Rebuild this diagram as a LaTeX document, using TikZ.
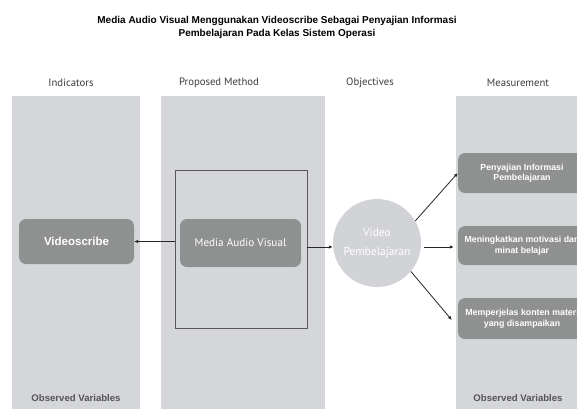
\documentclass[tikz,border=0pt]{standalone}
\usepackage{fontspec}
\setmainfont{Liberation Sans}
\newfontfamily\hand{PT Sans}
\usetikzlibrary{arrows.meta}
\definecolor{colgray}{RGB}{213,214,217}
\definecolor{boxgray}{RGB}{143,144,144}
\definecolor{circgray}{RGB}{210,211,214}
\definecolor{txtdark}{RGB}{85,85,88}
\definecolor{headtxt}{RGB}{60,60,62}
\tikzset{
  col/.style={fill=colgray, draw=none, inner sep=0pt},
  gbox/.style={fill=boxgray, draw=none, rounded corners=7pt, inner sep=0pt, text=white, align=center},
  head/.style={font=\hand\fontsize{10.7}{12}\selectfont, text=headtxt},
  obs/.style={font=\bfseries\fontsize{9.6}{11}\selectfont, text=txtdark},
  mtext/.style={font=\bfseries\fontsize{8.8}{10.5}\selectfont},
  arr/.style={-{Latex[length=4pt,width=3.5pt]}, line width=0.8pt, draw=black!85}
}
\begin{document}
\begin{tikzpicture}[x=1pt,y=-1pt]
\path[use as bounding box] (0,0) rectangle (577,408);
\clip (0,0) rectangle (577,408);
\fill[white] (0,0) rectangle (577,408);
% title
\node[font=\bfseries\fontsize{10}{13}\selectfont, align=center] (title) at (277,27)
  {Media Audio Visual Menggunakan Videoscribe Sebagai Penyajian Informasi\\Pembelajaran Pada Kelas Sistem Operasi};
% headers
\node[head] (h1) at (71,83) {Indicators};
\node[head] (h2) at (219,83) {Proposed Method};
\node[head] (h3) at (370,83) {Objectives};
\node[head] (h4) at (518,83) {Measurement};
% columns
\node[col, minimum width=128pt, minimum height=330pt] (c1) at (76,261) {};
\node[col, minimum width=164pt, minimum height=330pt] (c2) at (243,261) {};
\node[col, minimum width=150pt, minimum height=330pt] (c4) at (531,261) {};
% inner frame
\node[draw=black!65, line width=0.6pt, minimum width=132pt, minimum height=158pt, inner sep=0pt] (frame) at (241,249) {};
% boxes
\node[gbox, minimum width=115pt, minimum height=45pt, font=\bfseries\fontsize{11.5}{13}\selectfont] (vs) at (76.5,241.5) {Videoscribe};
\node[gbox, minimum width=121pt, minimum height=48pt, font=\hand\fontsize{11.2}{13}\selectfont] (mav) at (240.5,243) {Media Audio Visual};
\node[circle, fill=circgray, minimum size=88pt, inner sep=0pt, text=white, align=center,
  font=\hand\fontsize{11.5}{19}\selectfont] (vp) at (377,243) {Video\\Pembelajaran};
\node[gbox, minimum width=128pt, minimum height=40pt, mtext] (m1) at (522,173) {Penyajian Informasi\\Pembelajaran};
\node[gbox, minimum width=128pt, minimum height=39pt, mtext] (m2) at (522,245.5) {Meningkatkan motivasi dan\\minat belajar};
\node[gbox, minimum width=128pt, minimum height=41pt, mtext] (m3) at (522,318.5) {Memperjelas konten materi\\yang disampaikan};
% observed variables
\node[obs] (o1) at (76,398) {Observed Variables};
\node[obs] (o4) at (518,398) {Observed Variables};
% arrows
\draw[arr] (frame.west |- vs.east) -- (vs.east);
\draw[arr] (frame.east |- 0,247) -- (vp.west |- 0,247);
\draw[arr] (vp.30) -- (m1.west |- 0,173) ;
\draw[arr] ([xshift=3pt]vp.east |- 0,247) -- ([xshift=-4pt]m2.west |- 0,247);
\draw[arr] (vp.-40) -- ([xshift=-6pt]m3.west |- 0,320);
\end{tikzpicture}
\end{document}
